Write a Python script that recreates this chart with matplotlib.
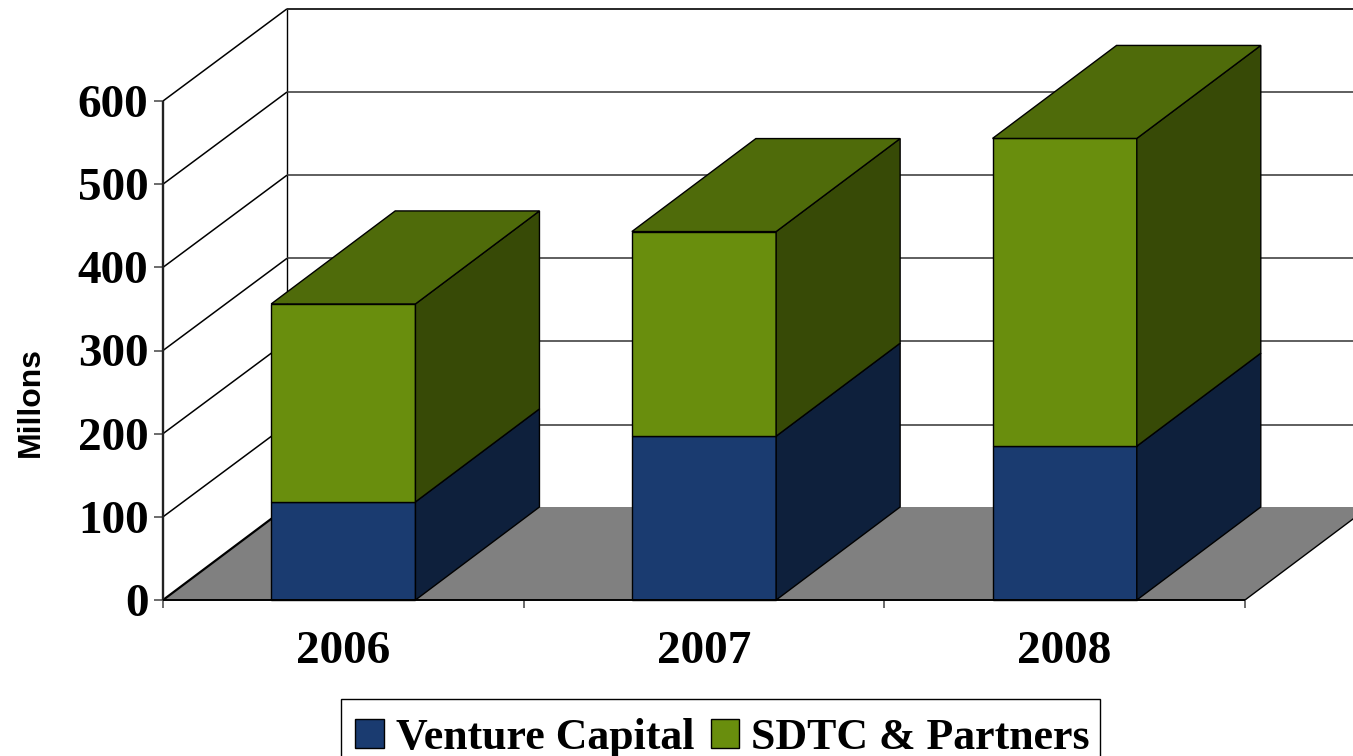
import matplotlib
matplotlib.use("Agg")
import matplotlib.pyplot as plt
from matplotlib.patches import Polygon, Patch, Rectangle

years = ["2006", "2007", "2008"]
venture = [118, 197, 185]
sdtc = [238, 246, 370]
y_ticks = [0, 100, 200, 300, 400, 500, 600]

W, H = 1353, 756
# front plane of the fake 3d box, in pixels
LEFT, RIGHT, BOTTOM, TOP = 163, 1245, 600, 101
DX = 124 / ((RIGHT - LEFT) / 3)
DY = 93 / ((BOTTOM - TOP) / 600)
BAR_W = 0.4

BLUE, BLUE_SIDE = "#1a3b70", "#0e203c"
GREEN, GREEN_SIDE, GREEN_TOP = "#698e0d", "#374a06", "#4f6b0a"
FLOOR = "#808080"
GRID = "#333333"

fig = plt.figure(figsize=(W / 100, H / 100), dpi=100)
ax = fig.add_axes([LEFT / W, 1 - BOTTOM / H, (RIGHT - LEFT) / W, (BOTTOM - TOP) / H])
ax.set_xlim(0, 3)
ax.set_ylim(0, 600)
for s in ax.spines.values():
    s.set_visible(False)
ax.patch.set_visible(False)


def poly(pts, fc, ec="black", lw=1.0, z=2):
    ax.add_patch(Polygon(pts, closed=True, fc=fc, ec=ec, lw=lw, clip_on=False, zorder=z))


def line(xs, ys, color="black", lw=1.0, z=1):
    ax.plot(xs, ys, color=color, lw=lw, clip_on=False, zorder=z, solid_capstyle="butt")


wall_top = 711  # value reached by the back wall once lifted by the depth
grid_dy = DY - 1
# floor
poly([(0, 0), (3, 0), (3 + DX, DY), (DX, DY)], FLOOR, ec="none", z=1)
line([0, DX], [0, DY], lw=1.6, z=1.5)
line([3, 3 + DX], [0, DY], z=1.5)
# back wall outline and gridlines
line([DX, DX], [DY, wall_top])
line([DX, 3 + DX + 1], [wall_top, wall_top], lw=1.3)
for v in y_ticks[1:]:
    line([0, DX], [v, v + grid_dy], lw=1.1)
    line([DX, 3 + DX + 1], [v + grid_dy, v + grid_dy], color=GRID, lw=1.1)
line([0, 0], [0, 600], color="#222222", lw=1.7, z=1.6)
line([0, 3], [0, 0], lw=1.4, z=4)

# bars
for i, (a, b) in enumerate(zip(venture, sdtc)):
    x0 = i + 0.5 - BAR_W / 2
    x1 = i + 0.5 + BAR_W / 2
    poly([(x0, 0), (x1, 0), (x1, a), (x0, a)], BLUE, z=3)
    poly([(x1, 0), (x1 + DX, DY), (x1 + DX, a + DY), (x1, a)], BLUE_SIDE, z=3)
    poly([(x0, a), (x1, a), (x1, a + b), (x0, a + b)], GREEN, z=3)
    poly([(x1, a), (x1 + DX, a + DY), (x1 + DX, a + b + DY), (x1, a + b)], GREEN_SIDE, z=3)
    poly([(x0, a + b), (x1, a + b), (x1 + DX, a + b + DY), (x0 + DX, a + b + DY)], GREEN_TOP, z=3)

ax.set_yticks(y_ticks)
ax.set_yticklabels([str(v) for v in y_ticks], family="Liberation Serif", weight="bold", fontsize=34)
ax.set_xticks([0, 1, 2, 3])
ax.set_xticklabels([])
ax.set_xticks([0.5, 1.5, 2.5], minor=True)
ax.set_xticklabels(years, minor=True, family="Liberation Serif", weight="bold", fontsize=34)
ax.tick_params(axis="x", which="minor", length=0, pad=22)
ax.tick_params(axis="x", which="major", length=6, width=1.1, color="#444444")
ax.tick_params(axis="y", length=6.5, width=1.1, color="#444444", pad=4)

fig.text(31 / W, 1 - 402 / H, "Millons", rotation=90, ha="center", va="center",
         family="Liberation Sans", weight="bold", fontsize=23)

# legend box runs off the bottom of the picture, so it is drawn apart from the legend
fig.add_artist(Rectangle((341 / W, -20 / H), 759 / W, (H - 699 + 20) / H, fc="white", ec="black",
                         lw=1, transform=fig.transFigure))
handles = [Patch(fc=BLUE, ec="black", lw=1), Patch(fc=GREEN, ec="black", lw=1)]
leg = fig.legend(handles, ["Venture Capital", "SDTC & Partners"], ncol=2,
                 loc="upper center", bbox_to_anchor=(722.5 / W, 1 - 705 / H),
                 prop={"family": "Liberation Serif", "weight": "bold", "size": 31.6},
                 frameon=False, borderpad=0.29, handlelength=0.65, handleheight=0.65,
                 handletextpad=0.27, columnspacing=0.38, borderaxespad=0)

fig.savefig("out.png", dpi=100)
